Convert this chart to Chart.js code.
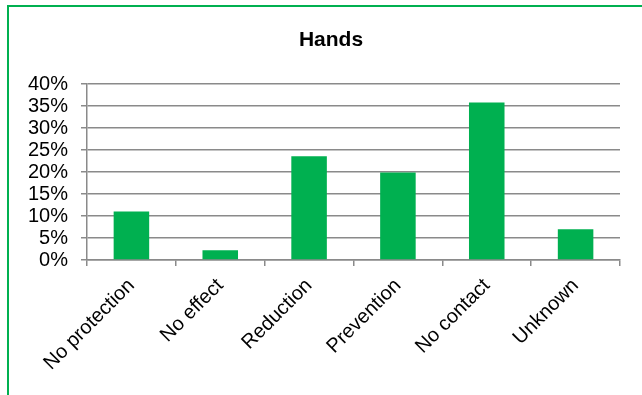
<!DOCTYPE html>
<html>
<head>
<meta charset="utf-8">
<script src="https://cdn.jsdelivr.net/npm/chart.js@4"></script>
<style>
  html, body { margin: 0; padding: 0; background: #fff; overflow: hidden; }
  #frame { position: absolute; left: 7px; top: 5px; width: 700px; height: 500px; border: 2px solid #00b050; }
  #wrap { position: absolute; left: 0; top: 0; width: 642px; height: 395px; }
</style>
</head>
<body>
<div id="frame"></div>
<div id="wrap"><canvas id="grafico"></canvas></div>
<script>
// dados do grafico (percentuais)
var categorias = ['No protection', 'No effect', 'Reduction', 'Prevention', 'No contact', 'Unknown'];
var valores = [11.0, 2.2, 23.6, 19.9, 35.8, 7.0];
var ticksY = [0, 5, 10, 15, 20, 25, 30, 35, 40];
var titulo = 'Hands';

var verde = '#00b050';
var cinza = '#8a8a8a';
var fonte = 'Arial, "Liberation Sans", sans-serif';

// titulo centrado na moldura toda, nao so na area do grafico
var pluginTitulo = {
    id: 'tituloMoldura',
    afterDraw: function (chart) {
        var c = chart.ctx;
        c.save();
        c.font = 'bold 21px ' + fonte;
        c.fillStyle = '#000';
        c.textAlign = 'center';
        c.textBaseline = 'middle';
        c.fillText(titulo, chart.width / 2 + 10, 40);
        c.restore();
    }
};

var ctx = document.getElementById('grafico').getContext('2d');
var grafico = new Chart(ctx, {
    type: 'bar',
    data: {
        labels: categorias,
        datasets: [{
            label: titulo,
            data: valores,
            backgroundColor: verde,
            borderWidth: 0,
            categoryPercentage: 1,
            barPercentage: 0.4
        }]
    },
    options: {
        responsive: true,
        maintainAspectRatio: false,
        animation: false,
        layout: { padding: { left: 0, right: 22, top: 84, bottom: 0 } },
        plugins: {
            legend: { display: false },
            tooltip: { enabled: false },
            title: { display: false }
        },
        scales: {
            x: {
                afterFit: function (scale) { scale.height = 135; },
                grid: {
                    drawOnChartArea: false,
                    color: cinza,
                    lineWidth: 1.5,
                    tickLength: 6,
                    offset: true
                },
                border: { color: cinza, width: 1.5 },
                ticks: {
                    color: '#000',
                    font: { family: fonte, size: 20 },
                    minRotation: 45,
                    maxRotation: 45,
                    autoSkip: false,
                    padding: 8
                }
            },
            y: {
                min: 0,
                max: 40,
                afterFit: function (scale) { scale.width = 87; },
                afterBuildTicks: function (scale) {
                    scale.ticks = ticksY.map(function (v) { return { value: v }; });
                },
                grid: {
                    color: cinza,
                    lineWidth: 1.5,
                    tickLength: 6
                },
                border: { color: cinza, width: 1.5 },
                ticks: {
                    color: '#000',
                    font: { family: fonte, size: 20 },
                    padding: 13,
                    autoSkip: false,
                    callback: function (v) { return v + '%'; }
                }
            }
        }
    },
    plugins: [pluginTitulo]
});
</script>
</body>
</html>
